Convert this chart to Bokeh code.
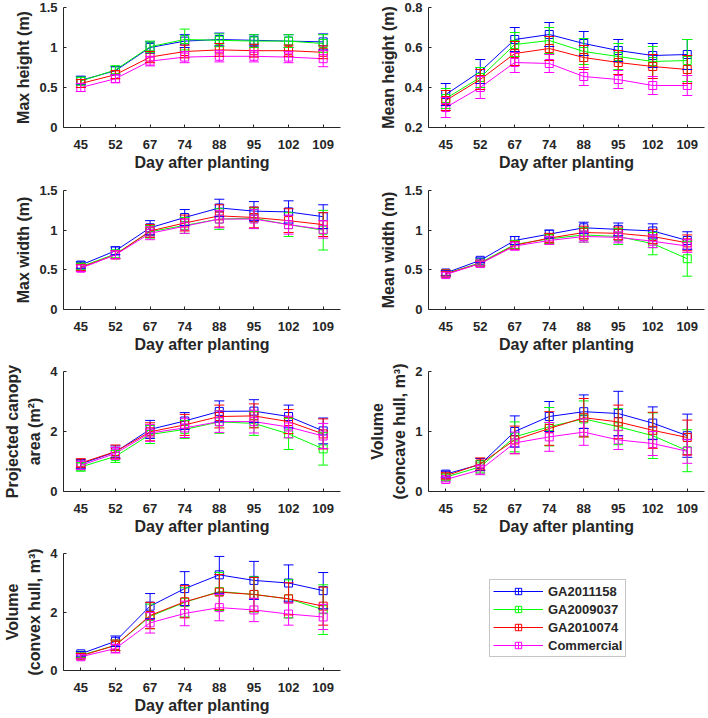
from bokeh.plotting import figure
from bokeh.models import (ColumnDataSource, Whisker, TeeHead, Range1d, FixedTicker,
                          Legend, LegendItem)
from bokeh.layouts import column, row
from bokeh.embed import file_html
from bokeh.resources import INLINE

# ---------------- data ----------------
days = ["45", "52", "67", "74", "88", "95", "102", "109"]
series = ["GA2011158", "GA2009037", "GA2010074", "Commercial"]
colors = ["#0000FF", "#00FF00", "#FF0000", "#FF00FF"]

maxh_mean = {"GA2011158": [0.59, 0.71, 1.00, 1.08, 1.10, 1.09, 1.08, 1.07],
             "GA2009037": [0.58, 0.72, 1.01, 1.10, 1.09, 1.08, 1.08, 1.05],
             "GA2010074": [0.55, 0.66, 0.88, 0.95, 0.97, 0.96, 0.96, 0.94],
             "Commercial": [0.50, 0.61, 0.83, 0.88, 0.89, 0.89, 0.88, 0.86]}
maxh_err = {"GA2011158": [0.05, 0.05, 0.07, 0.08, 0.08, 0.07, 0.08, 0.10],
            "GA2009037": [0.05, 0.05, 0.07, 0.13, 0.08, 0.08, 0.08, 0.11],
            "GA2010074": [0.05, 0.05, 0.07, 0.08, 0.08, 0.08, 0.07, 0.08],
            "Commercial": [0.05, 0.05, 0.06, 0.07, 0.07, 0.07, 0.07, 0.10]}

meanh_mean = {"GA2011158": [0.365, 0.48, 0.64, 0.665, 0.62, 0.585, 0.56, 0.565],
              "GA2009037": [0.345, 0.45, 0.615, 0.635, 0.58, 0.555, 0.53, 0.535],
              "GA2010074": [0.335, 0.44, 0.57, 0.595, 0.55, 0.525, 0.505, 0.49],
              "Commercial": [0.30, 0.40, 0.525, 0.52, 0.455, 0.44, 0.41, 0.41]}
meanh_err = {"GA2011158": [0.055, 0.06, 0.06, 0.06, 0.06, 0.055, 0.06, 0.075],
             "GA2009037": [0.05, 0.05, 0.06, 0.065, 0.065, 0.065, 0.075, 0.105],
             "GA2010074": [0.05, 0.05, 0.06, 0.06, 0.06, 0.06, 0.06, 0.07],
             "Commercial": [0.05, 0.055, 0.05, 0.045, 0.045, 0.045, 0.045, 0.05]}

maxw_mean = {"GA2011158": [0.56, 0.74, 1.03, 1.16, 1.28, 1.24, 1.23, 1.17],
             "GA2009037": [0.54, 0.70, 0.98, 1.06, 1.14, 1.15, 1.07, 1.00],
             "GA2010074": [0.53, 0.69, 0.99, 1.09, 1.18, 1.16, 1.12, 1.07],
             "Commercial": [0.52, 0.69, 0.96, 1.05, 1.14, 1.14, 1.07, 1.01]}
maxw_err = {"GA2011158": [0.04, 0.05, 0.09, 0.10, 0.11, 0.12, 0.14, 0.15],
            "GA2009037": [0.04, 0.05, 0.08, 0.10, 0.13, 0.13, 0.15, 0.25],
            "GA2010074": [0.04, 0.05, 0.08, 0.10, 0.14, 0.13, 0.15, 0.15],
            "Commercial": [0.04, 0.05, 0.08, 0.09, 0.11, 0.12, 0.12, 0.11]}

meanw_mean = {"GA2011158": [0.46, 0.62, 0.87, 0.95, 1.03, 1.01, 0.99, 0.87],
              "GA2009037": [0.45, 0.59, 0.82, 0.89, 0.94, 0.92, 0.83, 0.64],
              "GA2010074": [0.45, 0.58, 0.81, 0.90, 0.97, 0.96, 0.92, 0.84],
              "Commercial": [0.44, 0.58, 0.80, 0.87, 0.92, 0.91, 0.86, 0.80]}
meanw_err = {"GA2011158": [0.03, 0.03, 0.05, 0.05, 0.07, 0.08, 0.09, 0.11],
             "GA2009037": [0.03, 0.03, 0.05, 0.06, 0.09, 0.10, 0.14, 0.22],
             "GA2010074": [0.03, 0.03, 0.05, 0.06, 0.08, 0.08, 0.09, 0.10],
             "Commercial": [0.03, 0.03, 0.05, 0.05, 0.07, 0.07, 0.08, 0.08]}

area_mean = {"GA2011158": [0.92, 1.32, 2.07, 2.35, 2.67, 2.68, 2.50, 2.02],
             "GA2009037": [0.82, 1.17, 1.90, 2.07, 2.32, 2.27, 1.92, 1.42],
             "GA2010074": [0.95, 1.33, 1.99, 2.22, 2.50, 2.52, 2.33, 1.92],
             "Commercial": [0.87, 1.27, 1.95, 2.12, 2.33, 2.33, 2.15, 1.85]}
area_err = {"GA2011158": [0.14, 0.20, 0.30, 0.28, 0.35, 0.38, 0.38, 0.43],
            "GA2009037": [0.14, 0.20, 0.30, 0.30, 0.38, 0.40, 0.52, 0.54],
            "GA2010074": [0.14, 0.22, 0.30, 0.35, 0.38, 0.40, 0.40, 0.50],
            "Commercial": [0.14, 0.20, 0.28, 0.32, 0.36, 0.38, 0.36, 0.42]}

vconc_mean = {"GA2011158": [0.29, 0.45, 1.00, 1.25, 1.33, 1.30, 1.14, 0.93],
              "GA2009037": [0.24, 0.41, 0.91, 1.08, 1.21, 1.08, 0.93, 0.68],
              "GA2010074": [0.26, 0.46, 0.86, 1.05, 1.23, 1.16, 1.02, 0.90],
              "Commercial": [0.20, 0.36, 0.81, 0.91, 0.99, 0.86, 0.80, 0.67]}
vconc_err = {"GA2011158": [0.05, 0.10, 0.26, 0.25, 0.28, 0.37, 0.27, 0.36],
             "GA2009037": [0.05, 0.10, 0.25, 0.32, 0.30, 0.30, 0.38, 0.35],
             "GA2010074": [0.05, 0.10, 0.23, 0.28, 0.32, 0.28, 0.30, 0.29],
             "Commercial": [0.04, 0.08, 0.18, 0.24, 0.22, 0.16, 0.20, 0.20]}

vconv_mean = {"GA2011158": [0.57, 1.00, 2.20, 2.80, 3.27, 3.08, 2.99, 2.73],
              "GA2009037": [0.52, 0.86, 1.85, 2.33, 2.70, 2.60, 2.45, 2.08],
              "GA2010074": [0.50, 0.86, 1.88, 2.35, 2.68, 2.60, 2.45, 2.20],
              "Commercial": [0.47, 0.75, 1.63, 1.95, 2.15, 2.07, 1.93, 1.83]}
vconv_err = {"GA2011158": [0.08, 0.18, 0.43, 0.58, 0.63, 0.65, 0.62, 0.62],
             "GA2009037": [0.08, 0.18, 0.42, 0.50, 0.65, 0.60, 0.65, 0.85],
             "GA2010074": [0.08, 0.18, 0.45, 0.55, 0.60, 0.58, 0.55, 0.65],
             "Commercial": [0.07, 0.15, 0.35, 0.42, 0.45, 0.40, 0.38, 0.43]}

# ---------------- styling ----------------
FONT = "Liberation Sans"
TXT = "#262626"
xs = list(range(1, len(days) + 1))


def make_panel(mean, err, ylabel, yr, yticks, width, height, bl, br, bt, bb):
    p = figure(width=width, height=height, output_backend="svg", toolbar_location=None,
               x_range=Range1d(0.5, 8.5), y_range=Range1d(*yr),
               min_border_left=bl, min_border_right=br, min_border_top=bt,
               min_border_bottom=bb)
    p.outline_line_color = None
    p.grid.visible = False
    p.background_fill_color = "white"
    for ax in (p.xaxis[0], p.yaxis[0]):
        ax.axis_line_color = TXT
        ax.major_tick_line_color = TXT
        ax.minor_tick_line_color = None
        ax.major_tick_in = 3
        ax.major_tick_out = 0
        ax.major_label_text_font = FONT
        ax.major_label_text_font_style = "bold"
        ax.major_label_text_font_size = "13px"
        ax.major_label_text_color = TXT
        ax.axis_label_text_font = FONT
        ax.axis_label_text_font_style = "bold"
        ax.axis_label_text_font_size = "16px"
        ax.axis_label_text_color = TXT
        ax.axis_label_text_line_height = 1.3
    p.xaxis.ticker = FixedTicker(ticks=xs)
    p.xaxis.major_label_overrides = {x: d for x, d in zip(xs, days)}
    p.xaxis.axis_label = "Day after planting"
    p.xaxis.major_label_standoff = 12
    p.xaxis.axis_label_standoff = 2
    p.yaxis.ticker = FixedTicker(ticks=yticks)
    p.yaxis.major_label_overrides = {t: f"{t:g}" for t in yticks}
    p.yaxis.axis_label = ylabel
    p.yaxis.major_label_standoff = 6
    p.yaxis.axis_label_standoff = 4
    for s, c in zip(series, colors):
        m = mean[s]
        e = err[s]
        src = ColumnDataSource(dict(x=xs, y=m,
                                    lo=[a - b for a, b in zip(m, e)],
                                    hi=[a + b for a, b in zip(m, e)]))
        p.line("x", "y", source=src, line_color=c, line_width=1)
        w = Whisker(base="x", upper="hi", lower="lo", source=src, level="glyph",
                    line_color=c, line_width=1,
                    upper_head=TeeHead(size=10, line_color=c, line_width=1),
                    lower_head=TeeHead(size=10, line_color=c, line_width=1))
        p.add_layout(w)
        p.scatter("x", "y", source=src, marker="square", size=8,
                  fill_color=None, line_color=c, line_width=1)
    return p


LW, RW = 354, 352
LBL, RBL = 63, 74
LBR, RBR = 14, 2

p1 = make_panel(maxh_mean, maxh_err, "Max height (m)", (0, 1.5), [0, 0.5, 1, 1.5],
                LW, 181, LBL, LBR, 7, 54)
p2 = make_panel(meanh_mean, meanh_err, "Mean height (m)", (0.2, 0.8), [0.2, 0.4, 0.6, 0.8],
                RW, 181, RBL, RBR, 7, 54)
p3 = make_panel(maxw_mean, maxw_err, "Max width (m)", (0, 1.5), [0, 0.5, 1, 1.5],
                LW, 180, LBL, LBR, 9, 52)
p4 = make_panel(meanw_mean, meanw_err, "Mean width (m)", (0, 1.5), [0, 0.5, 1, 1.5],
                RW, 180, RBL, RBR, 9, 52)
p5 = make_panel(area_mean, area_err, "Projected canopy\narea (m²)", (0, 4), [0, 2, 4],
                LW, 181, LBL, LBR, 10, 51)
p6 = make_panel(vconc_mean, vconc_err, "Volume\n(concave hull, m³)", (0, 2), [0, 1, 2],
                RW, 181, RBL, RBR, 10, 51)
p7 = make_panel(vconv_mean, vconv_err, "Volume\n(convex hull, m³)", (0, 4), [0, 2, 4],
                LW, 174, LBL, LBR, 11, 46)

# legend panel (frame aligns with p7's frame in the row)
p8 = figure(width=RW, height=174, output_backend="svg", toolbar_location=None,
            x_range=Range1d(-2, -1), y_range=Range1d(-2, -1),
            min_border_left=0, min_border_right=0, min_border_top=11, min_border_bottom=46)
p8.axis.visible = False
p8.grid.visible = False
p8.outline_line_color = None
items = []
for s, c in zip(series, colors):
    src = ColumnDataSource(dict(x=xs, y=vconv_mean[s]))
    r1 = p8.line("x", "y", source=src, line_color=c, line_width=1)
    r2 = p8.scatter("x", "y", source=src, marker="cross", size=16,
                    line_color=c, line_width=1)
    r3 = p8.scatter("x", "y", source=src, marker="square", size=8,
                    fill_color=None, line_color=c, line_width=1)
    items.append(LegendItem(label=s, renderers=[r1, r2, r3]))
leg = Legend(items=items, location=(135, 13), glyph_width=50, glyph_height=16,
             label_height=16, label_standoff=5, padding=3, spacing=2, margin=0,
             label_text_font=FONT, label_text_font_style="bold",
             label_text_font_size="13px", label_text_color=TXT,
             border_line_color="#8c8c8c", border_line_width=1,
             background_fill_color="white")
p8.add_layout(leg, "center")

layout = column(row(p1, p2), row(p3, p4), row(p5, p6), row(p7, p8))
open("out.html", "w").write(file_html(layout, INLINE))
